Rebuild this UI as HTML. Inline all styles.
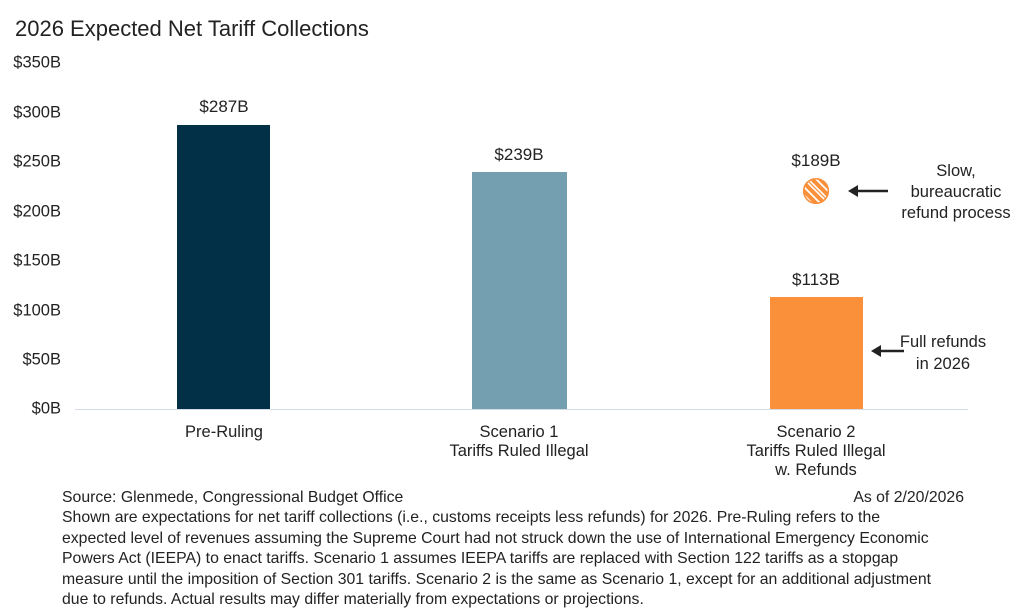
<!DOCTYPE html>
<html><head><meta charset="utf-8"><style>
body{margin:0;width:1024px;height:616px;background:#fff;font-family:"Liberation Sans",sans-serif;color:#222;position:relative;overflow:hidden}
.a{position:absolute;white-space:nowrap}
.y{position:absolute;right:963px;font-size:16.5px;transform:translateY(-50%);white-space:nowrap}
.c{position:absolute;text-align:center;font-size:16.5px;line-height:19px;transform:translateX(-50%);white-space:nowrap}
.v{font-size:17px}
.bar{position:absolute}
.foot{position:absolute;left:62px;top:488px;width:900px;font-size:15.8px;line-height:20.4px;white-space:nowrap}
</style></head><body>
<div class="a" style="left:15px;top:16px;font-size:22px">2026 Expected Net Tariff Collections</div>
<div class="y" style="top:63px">$350B</div>
<div class="y" style="top:113px">$300B</div>
<div class="y" style="top:162px">$250B</div>
<div class="y" style="top:212px">$200B</div>
<div class="y" style="top:261px">$150B</div>
<div class="y" style="top:311px">$100B</div>
<div class="y" style="top:360px">$50B</div>
<div class="y" style="top:409px">$0B</div>
<div style="position:absolute;left:75px;top:409px;width:893px;height:1px;background:#d4dbe4"></div>
<div class="bar" style="left:177px;top:125px;width:93px;height:284px;background:#023047"></div>
<div class="bar" style="left:472px;top:172px;width:95px;height:237px;background:#739fb0"></div>
<div class="bar" style="left:770px;top:297px;width:93px;height:112px;background:#fb903b"></div>
<div class="c v" style="left:224px;top:97px">$287B</div>
<div class="c v" style="left:519px;top:145px">$239B</div>
<div class="c v" style="left:816px;top:151px">$189B</div>
<div class="c v" style="left:816px;top:270px">$113B</div>
<svg style="position:absolute;left:802px;top:177px" width="28" height="28" viewBox="0 0 28 28">
<defs><clipPath id="cc"><circle cx="14" cy="14" r="13"/></clipPath></defs>
<circle cx="14" cy="14" r="13" fill="#fb903b"/>
<g clip-path="url(#cc)" stroke="#fff" stroke-width="1.6">
<line x1="0" y1="8" x2="20" y2="28"/><line x1="0" y1="0" x2="28" y2="28"/><line x1="4" y1="0" x2="28" y2="24"/><line x1="8" y1="-4" x2="32" y2="20"/><line x1="-4" y1="4" x2="24" y2="32"/><line x1="12" y1="0" x2="28" y2="16"/><line x1="-4" y1="12" x2="16" y2="32"/>
</g>
<circle cx="14" cy="14" r="12.3" fill="none" stroke="#fb903b" stroke-width="1.5"/>
</svg>
<svg style="position:absolute;left:848px;top:183px" width="42" height="16"><line x1="8" y1="8" x2="40" y2="8" stroke="#222" stroke-width="2.5"/><polygon points="0,8 10,2 10,14" fill="#222"/></svg>
<svg style="position:absolute;left:871px;top:343px" width="34" height="16"><line x1="8" y1="8" x2="33" y2="8" stroke="#222" stroke-width="2.5"/><polygon points="0,8 10,2 10,14" fill="#222"/></svg>
<div class="c" style="left:956px;top:161px;line-height:21px">Slow,<br>bureaucratic<br>refund process</div>
<div class="c" style="left:943px;top:331px;line-height:22px">Full refunds<br>in 2026</div>
<div class="c" style="left:224px;top:423px">Pre-Ruling</div>
<div class="c" style="left:519px;top:423px">Scenario 1<br>Tariffs Ruled Illegal</div>
<div class="c" style="left:816px;top:423px">Scenario 2<br>Tariffs Ruled Illegal<br>w. Refunds</div>
<div class="foot"><span>Source: Glenmede, Congressional Budget Office</span><span style="position:absolute;right:-2px">As of 2/20/2026</span><br>Shown are expectations for net tariff collections (i.e., customs receipts less refunds) for 2026. Pre-Ruling refers to the<br>expected level of revenues assuming the Supreme Court had not struck down the use of International Emergency Economic<br>Powers Act (IEEPA) to enact tariffs. Scenario 1 assumes IEEPA tariffs are replaced with Section 122 tariffs as a stopgap<br>measure until the imposition of Section 301 tariffs. Scenario 2 is the same as Scenario 1, except for an additional adjustment<br>due to refunds. Actual results may differ materially from expectations or projections.</div>
</body></html>
